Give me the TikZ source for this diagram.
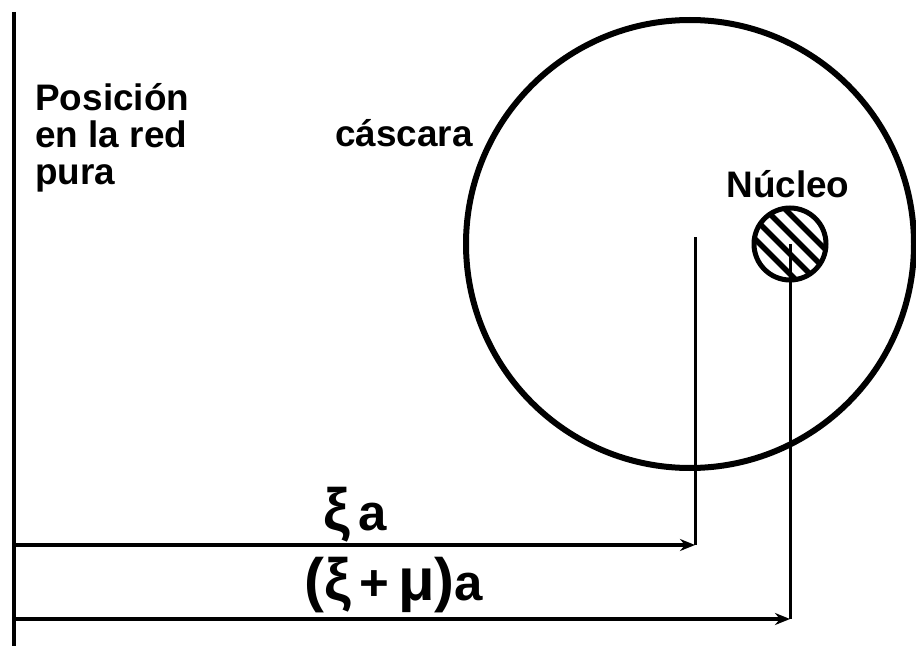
\documentclass[tikz,border=0pt]{standalone}
\usepackage{fontspec}
\setmainfont{Liberation Sans}
\usetikzlibrary{arrows.meta}
\newcommand{\gk}[1]{{\fontsize{34}{34}\selectfont #1}}
\tikzset{
  txt/.style={font=\bfseries\fontsize{21}{21}\selectfont, inner sep=0pt},
  lbl/.style={font=\bfseries\fontsize{29}{29}\selectfont, inner sep=0pt, anchor=base},
}
\begin{document}
\begin{tikzpicture}[>={Stealth[length=3mm,width=2.4mm]}]
    \useasboundingbox (0,0) rectangle (18.32,12.92);

    \coordinate (top) at (0.28,12.68);
    \coordinate (bot) at (0.28,0);
    \coordinate (shellc) at (13.8,8.04);
    \coordinate (nucc) at (15.8,8.04);
    \coordinate (mark) at (13.9,8.18);
    \coordinate (shellend) at (13.9,2.02);
    \coordinate (nucend) at (15.8,0.54);
    \coordinate (base1) at (0.28,2.02);
    \coordinate (base2) at (0.28,0.54);

    \draw[line width=0.09cm] (top) -- (bot);
    \draw[line width=0.12cm] (shellc) circle (4.48);

    % nucleus
    \begin{scope}
      \clip (nucc) circle (0.72);
      \foreach \d in {-0.3,-0.1,0.1,0.3}
        \draw[line width=0.11cm] ([shift={(\d-1,\d+1)}]nucc) -- ([shift={(\d+1,\d-1)}]nucc);
    \end{scope}
    \draw[line width=0.1cm] (nucc) circle (0.72);

    \draw[line width=0.06cm] (mark) -- (shellend);
    \draw[line width=0.06cm] (nucc) -- (nucend);
    \draw[line width=0.08cm, ->] (base1) -- (shellend);
    \draw[line width=0.08cm, ->] (base2) -- (nucend);

    \node[txt, anchor=north west, align=left] (pos) at (0.7,11.26) {Posición\\en la red\\pura};
    \node[txt, anchor=base west] (shell) at (6.7,9.98) {cáscara};
    \node[txt, anchor=base west] (nuc) at (14.52,8.96) {Núcleo};
    \node[lbl] (xia) at (7.1,2.32) {\gk{ξ}\,a};
    \node[lbl] (ximua) at (7.88,0.92) {\gk{(ξ}\,+\,\gk{μ)}a};
  \end{tikzpicture}
\end{document}
